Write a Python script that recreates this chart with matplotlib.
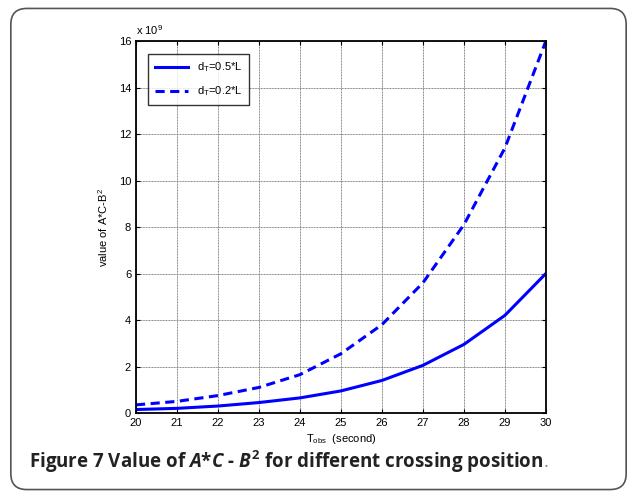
import matplotlib
matplotlib.use("Agg")
import matplotlib.pyplot as plt
from matplotlib.patches import FancyBboxPatch

t_obs = [20, 21, 22, 23, 24, 25, 26, 27, 28, 29, 30]
d05 = [0.15, 0.2, 0.3, 0.45, 0.65, 0.95, 1.4, 2.05, 2.95, 4.2, 6.0]
d02 = [0.35, 0.5, 0.75, 1.1, 1.65, 2.55, 3.8, 5.6, 8.1, 11.4, 16.0]
xticks = list(range(20, 31))
yticks = [0, 2, 4, 6, 8, 10, 12, 14, 16]

plt.rcParams['font.family'] = ['Liberation Sans', 'DejaVu Sans']
plt.rcParams['mathtext.fontset'] = 'custom'
plt.rcParams['mathtext.it'] = 'Open Sans:italic:bold'
plt.rcParams['mathtext.rm'] = 'Open Sans:bold'
plt.rcParams['mathtext.sf'] = 'Liberation Sans'

fig = plt.figure(figsize=(6.37, 4.97), dpi=100)
fig.patch.set_facecolor('white')

box = FancyBboxPatch((0.017, 0.015), 0.966, 0.968, boxstyle="round,pad=0,rounding_size=0.025",
                     transform=fig.transFigure, facecolor='white', edgecolor='#555555', lw=1.2,
                     mutation_aspect=637/497, zorder=-10)
fig.patches.append(box)

ax = fig.add_axes([0.2135, 0.169, 0.6435, 0.7485])
ax.plot(t_obs, d05, color='#0000ff', lw=2.2, label='d$_\\mathsf{T}$=0.5*L')
ax.plot(t_obs, d02, color='#0000ff', lw=2.2, ls=(0, (3, 1.8)), label='d$_\\mathsf{T}$=0.2*L')
ax.set_xlim(20, 30)
ax.set_ylim(0, 16)
ax.set_xticks(xticks)
ax.set_yticks(yticks)
ax.tick_params(direction='in', top=True, right=True, labelsize=8, length=3, width=0.8)
ax.grid(True, color='#808080', lw=0.7, ls=(0, (1, 0.6)))
for s in ax.spines.values():
    s.set_linewidth(1.3)
ax.set_xlabel('T$_\\mathsf{obs}$  (second)', fontsize=8, labelpad=3)
ax.set_ylabel('value of A*C-B$^\\mathsf{2}$', fontsize=8, labelpad=6)
ax.text(0.0, 1.012, 'x 10$^\\mathsf{9}$', transform=ax.transAxes, fontsize=8, ha='left', va='bottom')
leg = ax.legend(loc='upper left', fontsize=8, frameon=True, fancybox=False, edgecolor='black',
                handlelength=3.0, bbox_to_anchor=(0.03, 0.965), borderaxespad=0, borderpad=0.6,
                labelspacing=0.9)
leg.get_frame().set_linewidth(1.0)

fig.text(0.045, 0.07, r'Figure 7 Value of $\mathit{A}$*$\mathit{C}$ - $\mathit{B}^\mathrm{2}$ for different crossing position',
         fontsize=13.5, fontweight='bold', family=['Open Sans', 'DejaVu Sans'], color='#222222', va='center')
fig.text(0.853, 0.07, '.', fontsize=13.5, family=['Open Sans', 'DejaVu Sans'], color='#888888', va='center')

fig.savefig('out.png', dpi=100)
